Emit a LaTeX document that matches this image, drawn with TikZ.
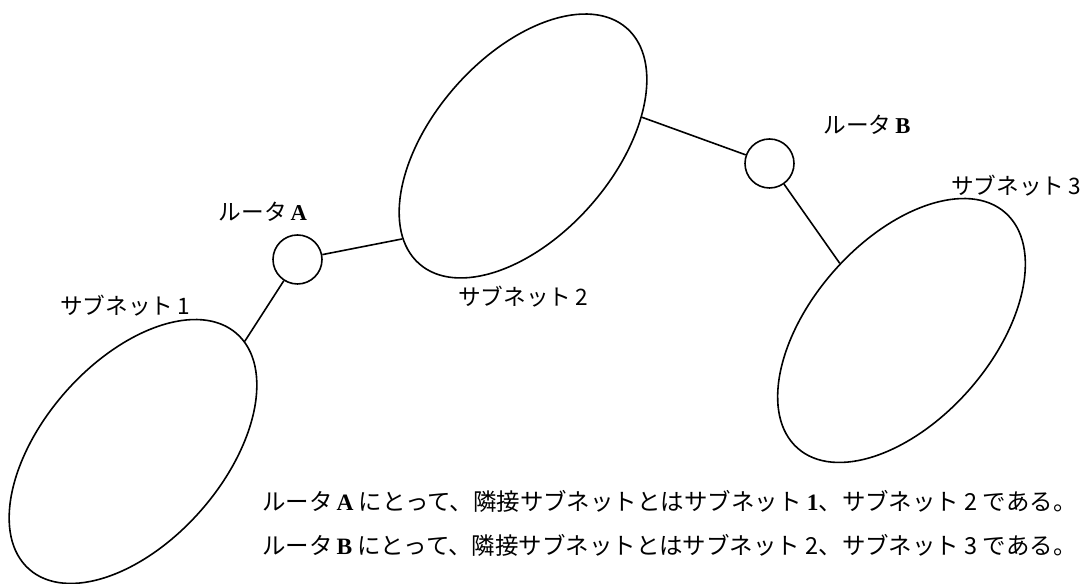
\documentclass[tikz,border=0pt]{standalone}
\usepackage{fontspec}
\setmainfont{Liberation Serif}
\newfontfamily\jpfont{Noto Sans CJK JP}
\usetikzlibrary{shapes.geometric}
\definecolor{ink}{HTML}{000000}
\newcommand{\lat}[1]{{\rmfamily\bfseries #1}}

\begin{document}
\begin{tikzpicture}[x=0.75pt,y=0.75pt,
    subnet/.style={draw=ink,line width=1.2pt,ellipse,rotate=48.6,
      minimum width=235.5pt,minimum height=135pt,inner sep=0pt},
    router/.style={draw=ink,line width=1.2pt,circle,minimum size=36.75pt,inner sep=0pt},
    lbl/.style={font=\jpfont\fontsize{17}{20}\selectfont,inner sep=0pt,text=ink},
    note/.style={lbl,font=\jpfont\fontsize{17.6}{20}\selectfont,anchor=west},
    link/.style={draw=ink,line width=1.2pt}]
    \useasboundingbox (0,0) rectangle (1092,584);
    % subnets and routers
    \node[subnet] (s1) at (133,132.5) {};
    \node[subnet] (s2) at (523,438) {};
    \node[subnet] (s3) at (901.5,253.5) {};
    \node[router] (rA) at (297.5,324.5) {};
    \node[router] (rB) at (769.5,420.5) {};
    % links
    \draw[link] (rA) -- (s1.356);
    \draw[link] (rA) -- (s2.169);
    \draw[link] (rB) -- (s2.325);
    \draw[link] (rB) -- (s3.84);
    % labels
    \node[lbl] (labA) at (263,372) {ルータ\,\lat{A}};
    \node[lbl] (labB) at (867,459) {ルータ\,\lat{B}};
    \node[lbl] (labS1) at (125,278) {サブネット\,1};
    \node[lbl] (labS2) at (523,287) {サブネット\,2};
    \node[lbl] (labS3) at (1016,398) {サブネット\,3};
    % explanation
    \node[note] (note1) at (262,83)
      {ルータ\,\lat{A} にとって、隣接サブネットとはサブネット \lat{1}、サブネット 2 である。};
    \node[note] (note2) at (262,39)
      {ルータ\,\lat{B} にとって、隣接サブネットとはサブネット 2、サブネット 3 である。};
\end{tikzpicture}
\end{document}
